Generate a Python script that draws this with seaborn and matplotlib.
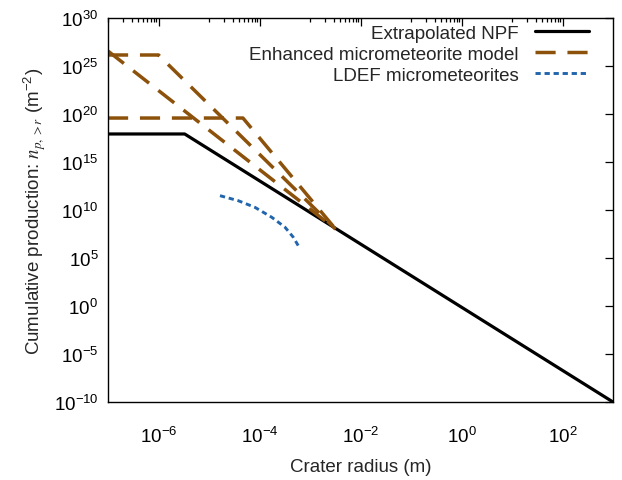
import numpy as np
import pandas as pd
import matplotlib
matplotlib.use("Agg")
import matplotlib.pyplot as plt
import matplotlib.ticker as mticker
import seaborn as sns

# ---- data ----
npf_r = [1e-7, 3.3e-6, 1e3]
npf_n = [8.3e17, 8.3e17, 1e-10]

enh1_r = [1e-7, 1.0e-6, 3.2e-3]
enh1_n = [1.4e26, 1.4e26, 1.05e8]
enh2_r = [1e-7, 3.2e-3]
enh2_n = [3.6e26, 1.05e8]
enh3_r = [1e-7, 4.7e-5, 3.2e-3]
enh3_n = [3.8e19, 3.8e19, 1.05e8]

ldef_r = [1.65e-5, 3.8e-5, 8.1e-5, 1.75e-4, 3.2e-4, 4.67e-4, 5.86e-4]
ldef_n = [3.1e11, 9.3e10, 1.9e10, 1.74e9, 1.6e8, 1.45e7, 1.9e6]

x_major = [1e-6, 1e-4, 1e-2, 1e0, 1e2]
y_major = [1e-10, 1e-5, 1e0, 1e5, 1e10, 1e15, 1e20, 1e25, 1e30]

sns.set_style("white")
plt.rcParams['font.family'] = ['Liberation Sans', 'DejaVu Sans']
plt.rcParams['mathtext.fontset'] = 'stix'

FS = 13.5
BROWN = '#8c510a'
BLUE = '#2166ac'
DASH = (0, (5.8, 3.4))
DOT = (0, (1.8, 1.3))

fig = plt.figure(figsize=(6.22, 4.81), dpi=100)
ax = fig.add_axes([108/622, 1-403/481, (613-108)/622, (403-19)/481])

def draw(r, n, **kw):
    df = pd.DataFrame({'r': r, 'n': n})
    sns.lineplot(data=df, x='r', y='n', ax=ax, sort=False, estimator=None, **kw)

draw(npf_r, npf_n, color='black', lw=2.3, label='Extrapolated NPF')
draw(enh1_r, enh1_n, color=BROWN, lw=2.5, label='Enhanced micrometeorite model')
draw(enh2_r, enh2_n, color=BROWN, lw=2.5)
draw(enh3_r, enh3_n, color=BROWN, lw=2.5)
for l in ax.lines[-3:]:
    l.set_linestyle(DASH)
draw(ldef_r, ldef_n, color=BLUE, lw=2.1, label='LDEF micrometeorites')
ax.lines[-1].set_linestyle(DOT)

ax.set_xscale('log')
ax.set_yscale('log')
ax.set_xlim(1e-7, 1e3)
ax.set_ylim(1e-10, 1e30)

ax.xaxis.set_major_locator(mticker.FixedLocator(x_major))
minor_x = [m * 10.0**k for k in (-7, -5, -3, -1, 1) for m in range(1, 10)]
ax.xaxis.set_minor_locator(mticker.FixedLocator(minor_x))
ax.xaxis.set_minor_formatter(mticker.NullFormatter())
ax.xaxis.set_major_formatter(mticker.LogFormatterSciNotation())
ax.yaxis.set_major_locator(mticker.FixedLocator(y_major))
ax.yaxis.set_minor_locator(mticker.NullLocator())
ax.yaxis.set_major_formatter(mticker.LogFormatterSciNotation())

ax.tick_params(which='both', direction='in', top=True, right=True, colors='black',
               labelsize=FS, width=0.9)
ax.tick_params(which='major', length=6)
ax.tick_params(axis='y', which='major', pad=7)
ax.tick_params(axis='x', which='major', pad=17)
ax.tick_params(which='minor', length=3)
for s in ax.spines.values():
    s.set_visible(True)
    s.set_color('black')
    s.set_linewidth(1.0)

ax.set_xlabel('Crater radius (m)', fontsize=FS, labelpad=9)
ax.set_ylabel(r'Cumulative production: $n_{p,>r}$ (m$^{\mathdefault{-2}}$)', fontsize=FS, labelpad=4)

leg = ax.legend(loc='upper right', frameon=False, markerfirst=False, fontsize=FS,
                handlelength=2.9, handletextpad=0.85, labelspacing=0.2,
                borderaxespad=0.2, bbox_to_anchor=(0.975, 1.012))

fig.savefig('out.png', dpi=100)
